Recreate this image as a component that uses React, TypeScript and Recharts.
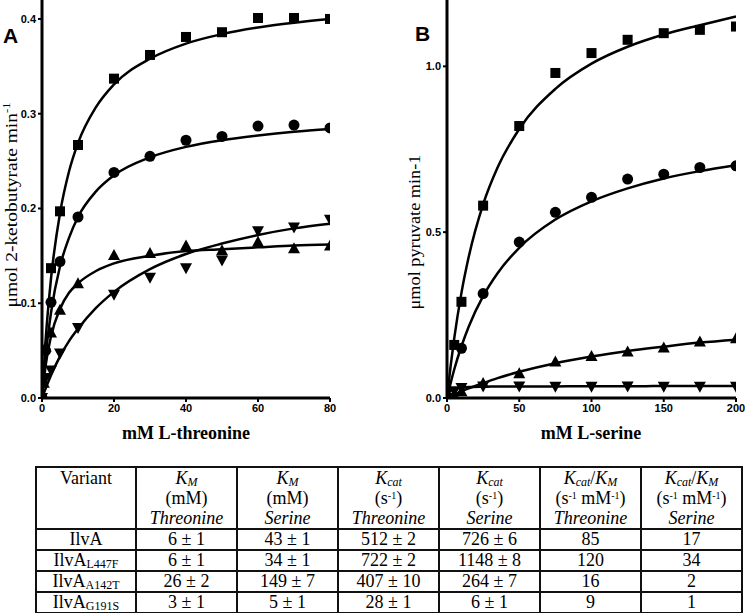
import React from 'react';
import { ComposedChart, Line, Scatter, XAxis, YAxis } from 'recharts';

// panel A: L-threonine (mM) vs rate
const thrSquareX = [0, 2.5, 5, 10, 20, 30, 40, 50, 60, 70, 80];
const thrSquareY = [0, 0.137, 0.197, 0.267, 0.337, 0.362, 0.381, 0.386, 0.401, 0.401, 0.4];
const thrCircleX = [0, 1, 2.5, 5, 10, 20, 30, 40, 50, 60, 70, 80];
const thrCircleY = [0, 0.05, 0.101, 0.144, 0.191, 0.238, 0.255, 0.272, 0.276, 0.287, 0.288, 0.285];
const thrUpX = [0, 0.5, 1, 2.5, 5, 10, 20, 30, 40, 50, 60, 70, 80];
const thrUpY = [0, 0.016, 0.054, 0.069, 0.093, 0.121, 0.151, 0.153, 0.161, 0.156, 0.165, 0.158, 0.161];
const thrDownX = [0, 1, 2.5, 5, 10, 20, 30, 40, 50, 60, 70, 80];
const thrDownY = [0, 0.021, 0.029, 0.047, 0.074, 0.109, 0.127, 0.137, 0.145, 0.176, 0.18, 0.188];

const thrFitX = [0, 1, 2.5, 5, 7.5, 10, 15, 20, 30, 40, 50, 60, 70, 80];
const thrFitSquare = [0, 0.061, 0.126, 0.195, 0.239, 0.269, 0.307, 0.331, 0.358, 0.374, 0.384, 0.391, 0.396, 0.4];
const thrFitCircle = [0, 0.044, 0.09, 0.139, 0.169, 0.191, 0.218, 0.235, 0.254, 0.265, 0.272, 0.277, 0.281, 0.284];
const thrFitUp = [0, 0.034, 0.065, 0.094, 0.111, 0.121, 0.134, 0.142, 0.15, 0.155, 0.157, 0.159, 0.161, 0.162];
const thrFitDown = [0, 0.01, 0.024, 0.044, 0.06, 0.073, 0.095, 0.112, 0.136, 0.152, 0.163, 0.172, 0.179, 0.184];

// panel B: L-serine (mM) vs rate
const serX = [0, 5, 10, 25, 50, 75, 100, 125, 150, 175, 200];
const serSquareY = [0, 0.16, 0.29, 0.58, 0.82, 0.98, 1.04, 1.08, 1.1, 1.11, 1.12];
const serCircleX = [0, 10, 25, 50, 75, 100, 125, 150, 175, 200];
const serCircleY = [0, 0.15, 0.315, 0.47, 0.56, 0.605, 0.66, 0.675, 0.695, 0.7];
const serUpY = [0, 0.01, 0.02, 0.045, 0.075, 0.11, 0.127, 0.14, 0.152, 0.17, 0.18];
const serDownY = [0, 0.02, 0.03, 0.035, 0.035, 0.034, 0.034, 0.035, 0.034, 0.034, 0.034];

const serFitX = [0, 2.5, 5, 10, 15, 25, 35, 50, 75, 100, 125, 150, 175, 200];
const serFitSquare = [0, 0.096, 0.18, 0.317, 0.425, 0.584, 0.695, 0.811, 0.932, 1.008, 1.059, 1.096, 1.124, 1.15];
const serFitCircle = [0, 0.045, 0.086, 0.156, 0.215, 0.307, 0.376, 0.453, 0.538, 0.593, 0.632, 0.662, 0.684, 0.702];
const serFitUp = [0, 0.005, 0.01, 0.02, 0.029, 0.045, 0.06, 0.079, 0.105, 0.125, 0.142, 0.155, 0.167, 0.176];
const serFitDown = [0, 0.022, 0.028, 0.031, 0.033, 0.034, 0.0345, 0.035, 0.035, 0.0355, 0.0355, 0.036, 0.036, 0.036];

const thrTicksX = [0, 20, 40, 60, 80];
const thrTicksY = [0, 0.1, 0.2, 0.3, 0.4];
const serTicksX = [0, 50, 100, 150, 200];
const serTicksY = [0, 0.5, 1.0];

// table
const variantSub = ['', 'L447F', 'A142T', 'G191S'];
const kmThr = ['6 ± 1', '6 ± 1', '26 ± 2', '3 ± 1'];
const kmSer = ['43 ± 1', '34 ± 1', '149 ± 7', '5 ± 1'];
const kcatThr = ['512 ± 2', '722 ± 2', '407 ± 10', '28 ± 1'];
const kcatSer = ['726 ± 6', '1148 ± 8', '264 ± 7', '6 ± 1'];
const effThr = ['85', '120', '16', '9'];
const effSer = ['17', '34', '2', '1'];

const zip = (xs: number[], ys: number[]) => xs.map((x, i) => ({ x, y: ys[i] }));

type Kind = 'square' | 'circle' | 'up' | 'down';

const Marker = ({ cx, cy, kind }: { cx: number; cy: number; kind: Kind }) => {
  if (cx == null || cy == null) return null;
  if (kind === 'square') return <rect x={cx - 5} y={cy - 5} width={10} height={10} fill="#000" />;
  if (kind === 'circle') return <circle cx={cx} cy={cy} r={5.5} fill="#000" />;
  if (kind === 'up')
    return <polygon points={`${cx},${cy - 6} ${cx + 6},${cy + 5} ${cx - 6},${cy + 5}`} fill="#000" />;
  return <polygon points={`${cx - 6},${cy - 5} ${cx + 6},${cy - 5} ${cx},${cy + 6}`} fill="#000" />;
};

// recharts overrides x/y on cloned labels, so use own prop names
const YTitle = ({ px, py, len, text, sup }: any) => (
  <text
    x={px}
    y={py}
    transform={`rotate(-90 ${px} ${py})`}
    textAnchor="middle"
    dominantBaseline="middle"
    fontFamily="'Liberation Serif', 'Times New Roman', serif"
    fontSize={17}
    textLength={len}
    lengthAdjust="spacingAndGlyphs"
    fill="#000"
  >
    {text}
    {sup ? (
      <tspan dy={-6} fontSize={11}>
        {sup}
      </tspan>
    ) : null}
  </text>
);

const XTitle = ({ px, py, text }: any) => (
  <text
    x={px}
    y={py}
    textAnchor="middle"
    fontFamily="'Liberation Serif', 'Times New Roman', serif"
    fontWeight="bold"
    fontSize={18}
    fill="#000"
  >
    {text}
  </text>
);

const tickStyle = { fontFamily: "'Liberation Sans', Arial, sans-serif", fontWeight: 'bold', fontSize: 11, fill: '#000' };
const axisLine = { stroke: '#000', strokeWidth: 3 };
const tickLine = { stroke: '#000', strokeWidth: 2 };

interface Series {
  kind: Kind;
  points: { x: number; y: number }[];
  fit: { x: number; y: number }[];
}

interface PanelProps {
  width: number;
  yAxisWidth: number;
  right: number;
  xMax: number;
  yMax: number;
  xTicks: number[];
  yTicks: number[];
  series: Series[];
  yTitle: React.ReactElement;
  xTitle: React.ReactElement;
}

const Panel = ({ width, yAxisWidth, right, xMax, yMax, xTicks, yTicks, series, yTitle, xTitle }: PanelProps) => (
  <ComposedChart width={width} height={445} margin={{ top: 0, right, bottom: 0, left: 0 }}>
    <XAxis
      dataKey="x"
      type="number"
      domain={[0, xMax]}
      ticks={xTicks}
      allowDataOverflow
      height={47}
      tickSize={4}
      tick={tickStyle}
      axisLine={axisLine}
      tickLine={tickLine}
      label={xTitle}
    />
    <YAxis
      type="number"
      domain={[0, yMax]}
      ticks={yTicks}
      allowDataOverflow
      width={yAxisWidth}
      tickSize={4}
      tick={tickStyle}
      axisLine={axisLine}
      tickLine={tickLine}
      tickFormatter={(v: number) => v.toFixed(1)}
      label={yTitle}
    />
    {series.map((s, i) => (
      <Line
        key={`fit-${i}`}
        data={s.fit}
        dataKey="y"
        type="monotone"
        stroke="#000"
        strokeWidth={2.5}
        dot={false}
        activeDot={false}
        isAnimationActive={false}
      />
    ))}
    {series.map((s, i) => (
      <Scatter
        key={`pts-${i}`}
        data={s.points}
        dataKey="y"
        isAnimationActive={false}
        shape={(p: any) => <Marker cx={p.cx} cy={p.cy} kind={s.kind} />}
      />
    ))}
  </ComposedChart>
);

const thrSeries: Series[] = [
  { kind: 'square', points: zip(thrSquareX, thrSquareY), fit: zip(thrFitX, thrFitSquare) },
  { kind: 'circle', points: zip(thrCircleX, thrCircleY), fit: zip(thrFitX, thrFitCircle) },
  { kind: 'up', points: zip(thrUpX, thrUpY), fit: zip(thrFitX, thrFitUp) },
  { kind: 'down', points: zip(thrDownX, thrDownY), fit: zip(thrFitX, thrFitDown) },
];

const serSeries: Series[] = [
  { kind: 'square', points: zip(serX, serSquareY), fit: zip(serFitX, serFitSquare) },
  { kind: 'circle', points: zip(serCircleX, serCircleY), fit: zip(serFitX, serFitCircle) },
  { kind: 'up', points: zip(serX, serUpY), fit: zip(serFitX, serFitUp) },
  { kind: 'down', points: zip(serX, serDownY), fit: zip(serFitX, serFitDown) },
];

const subStyle: React.CSSProperties = { fontSize: 12, verticalAlign: -2, lineHeight: 0 };
const supStyle: React.CSSProperties = { fontSize: 10, verticalAlign: 5, lineHeight: 0 };

const Km = () => (
  <>
    <i>K</i>
    <i style={subStyle}>M</i>
  </>
);
const Kcat = () => (
  <>
    <i>K</i>
    <i style={subStyle}>cat</i>
  </>
);

const cell: React.CSSProperties = {
  border: '2px solid #111',
  padding: 0,
  textAlign: 'center',
  lineHeight: '17px',
  whiteSpace: 'nowrap',
};

const headers: React.ReactNode[] = [
  <>Variant</>,
  <>
    <Km />
    <br />
    (mM)
    <br />
    <i>Threonine</i>
  </>,
  <>
    <Km />
    <br />
    (mM)
    <br />
    <i>Serine</i>
  </>,
  <>
    <Kcat />
    <br />
    (s<span style={supStyle}>-1</span>)
    <br />
    <i>Threonine</i>
  </>,
  <>
    <Kcat />
    <br />
    (s<span style={supStyle}>-1</span>)
    <br />
    <i>Serine</i>
  </>,
  <>
    <Kcat />/<Km />
    <br />
    (s<span style={supStyle}>-1</span> mM<span style={supStyle}>-1</span>)
    <br />
    <i>Threonine</i>
  </>,
  <>
    <Kcat />/<Km />
    <br />
    (s<span style={supStyle}>-1</span> mM<span style={supStyle}>-1</span>)
    <br />
    <i>Serine</i>
  </>,
];

const KineticsTable = () => (
  <table
    style={{
      position: 'absolute',
      left: 35,
      top: 466,
      width: 706,
      borderCollapse: 'collapse',
      tableLayout: 'fixed',
      fontFamily: "'Liberation Serif', 'Times New Roman', serif",
      fontSize: 18,
      color: '#000',
    }}
  >
    <colgroup>
      {headers.map((_, i) => (
        <col key={i} style={{ width: i === 0 ? 100 : 101 }} />
      ))}
    </colgroup>
    <tbody>
      <tr style={{ height: 62 }}>
        {headers.map((h, i) => (
          <td key={i} style={{ ...cell, lineHeight: '20px', verticalAlign: 'top', paddingTop: 0 }}>
            {h}
          </td>
        ))}
      </tr>
      {variantSub.map((sub, r) => (
        <tr key={r} style={{ height: 21 }}>
          <td style={cell}>
            IlvA{sub ? <span style={subStyle}>{sub}</span> : null}
          </td>
          <td style={cell}>{kmThr[r]}</td>
          <td style={cell}>{kmSer[r]}</td>
          <td style={cell}>{kcatThr[r]}</td>
          <td style={cell}>{kcatSer[r]}</td>
          <td style={cell}>{effThr[r]}</td>
          <td style={cell}>{effSer[r]}</td>
        </tr>
      ))}
    </tbody>
  </table>
);

const panelLetter: React.CSSProperties = {
  position: 'absolute',
  fontFamily: "'Liberation Sans', Arial, sans-serif",
  fontWeight: 'bold',
  fontSize: 21,
  lineHeight: '21px',
};

export default function App() {
  return (
    <div style={{ position: 'absolute', left: 0, top: 0, width: 745, height: 613, background: '#fff', overflow: 'hidden' }}>
      <div style={{ position: 'absolute', left: 0, top: 0 }}>
        <Panel
          width={370}
          yAxisWidth={42}
          right={40}
          xMax={80}
          yMax={0.42}
          xTicks={thrTicksX}
          yTicks={thrTicksY}
          series={thrSeries}
          yTitle={<YTitle px={13} py={205} len={205} text="μmol 2-ketobutyrate min" sup="-1" />}
          xTitle={<XTitle px={186} py={439} text="mM L-threonine" />}
        />
      </div>
      <div style={{ position: 'absolute', left: 375, top: 0 }}>
        <Panel
          width={370}
          yAxisWidth={72}
          right={9}
          xMax={200}
          yMax={1.2}
          xTicks={serTicksX}
          yTicks={serTicksY}
          series={serSeries}
          yTitle={<YTitle px={41} py={232} len={155} text="μmol pyruvate min-1" />}
          xTitle={<XTitle px={216} py={439} text="mM L-serine" />}
        />
      </div>
      <div style={{ ...panelLetter, left: 3, top: 25 }}>A</div>
      <div style={{ ...panelLetter, left: 415, top: 23 }}>B</div>
      <KineticsTable />
    </div>
  );
}
